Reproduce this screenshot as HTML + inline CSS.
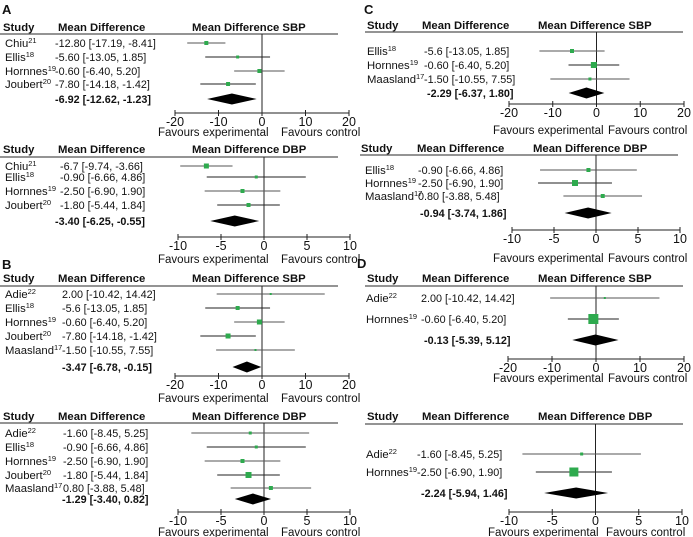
<!DOCTYPE html>
<html><head><meta charset="utf-8"><style>
html,body{margin:0;padding:0;background:#fff}
svg{display:block;font-family:"Liberation Sans",sans-serif}
</style></head><body>
<svg id="c" width="693" height="537" viewBox="0 0 693 537"></svg>
<script>
// ---- data ----
const aStudies=["Chiu","Ellis","Hornnes","Joubert"];
const aRefs=["21","18","19","20"];
const aSbpMean=[-12.80,-5.60,-0.60,-7.80];
const aSbpLow=[-17.19,-13.05,-6.40,-14.18];
const aSbpHigh=[-8.41,1.85,5.20,-1.42];
const aSbpW=[4,3,4,4];
const aSbpSum=[-6.92,-12.62,-1.23];
const aSbpText=["-12.80 [-17.19, -8.41]","-5.60 [-13.05, 1.85]","-0.60 [-6.40, 5.20]","-7.80 [-14.18, -1.42]"];
const aDbpMean=[-6.7,-0.90,-2.50,-1.80];
const aDbpLow=[-9.74,-6.66,-6.90,-5.44];
const aDbpHigh=[-3.66,4.86,1.90,1.84];
const aDbpW=[5,3,4,4];
const aDbpSum=[-3.40,-6.25,-0.55];
const aDbpText=["-6.7 [-9.74, -3.66]","-0.90 [-6.66, 4.86]","-2.50 [-6.90, 1.90]","-1.80 [-5.44, 1.84]"];

const bStudies=["Adie","Ellis","Hornnes","Joubert","Maasland"];
const bRefs=["22","18","19","20","17"];
const bSbpMean=[2.00,-5.6,-0.60,-7.80,-1.50];
const bSbpLow=[-10.42,-13.05,-6.40,-14.18,-10.55];
const bSbpHigh=[14.42,1.85,5.20,-1.42,7.55];
const bSbpW=[2,4,5,5,2];
const bSbpSum=[-3.47,-6.78,-0.15];
const bSbpText=["2.00 [-10.42, 14.42]","-5.6 [-13.05, 1.85]","-0.60 [-6.40, 5.20]","-7.80 [-14.18, -1.42]","-1.50 [-10.55, 7.55]"];
const bDbpMean=[-1.60,-0.90,-2.50,-1.80,0.80];
const bDbpLow=[-8.45,-6.66,-6.90,-5.44,-3.88];
const bDbpHigh=[5.25,4.86,1.90,1.84,5.48];
const bDbpW=[3,3,4,6,4];
const bDbpSum=[-1.29,-3.40,0.82];
const bDbpText=["-1.60 [-8.45, 5.25]","-0.90 [-6.66, 4.86]","-2.50 [-6.90, 1.90]","-1.80 [-5.44, 1.84]","0.80 [-3.88, 5.48]"];

const cStudies=["Ellis","Hornnes","Maasland"];
const cRefs=["18","19","17"];
const cSbpMean=[-5.6,-0.60,-1.50];
const cSbpLow=[-13.05,-6.40,-10.55];
const cSbpHigh=[1.85,5.20,7.55];
const cSbpW=[4,6,3];
const cSbpSum=[-2.29,-6.37,1.80];
const cSbpText=["-5.6 [-13.05, 1.85]","-0.60 [-6.40, 5.20]","-1.50 [-10.55, 7.55]"];
const cDbpMean=[-0.90,-2.50,0.80];
const cDbpLow=[-6.66,-6.90,-3.88];
const cDbpHigh=[4.86,1.90,5.48];
const cDbpW=[4,6,4];
const cDbpSum=[-0.94,-3.74,1.86];
const cDbpText=["-0.90 [-6.66, 4.86]","-2.50 [-6.90, 1.90]","0.80 [-3.88, 5.48]"];

const dStudies=["Adie","Hornnes"];
const dRefs=["22","19"];
const dSbpMean=[2.00,-0.60];
const dSbpLow=[-10.42,-6.40];
const dSbpHigh=[14.42,5.20];
const dSbpW=[2,10];
const dSbpSum=[-0.13,-5.39,5.12];
const dSbpText=["2.00 [-10.42, 14.42]","-0.60 [-6.40, 5.20]"];
const dDbpMean=[-1.60,-2.50];
const dDbpLow=[-8.45,-6.90];
const dDbpHigh=[5.25,1.90];
const dDbpW=[3,9];
const dDbpSum=[-2.24,-5.94,1.46];
const dDbpText=["-1.60 [-8.45, 5.25]","-2.50 [-6.90, 1.90]"];

const sbpTicks=[-20,-10,0,10,20];
const dbpTicks=[-10,-5,0,5,10];

// ---- drawing ----
const NS="http://www.w3.org/2000/svg";
const svg=document.getElementById('c');
function mk(tag,attrs,parent){const e=document.createElementNS(NS,tag);for(const k in attrs)e.setAttribute(k,attrs[k]);(parent||svg).appendChild(e);return e;}
function txt(x,y,s,opt,parent){const t=mk('text',Object.assign({x:x,y:y,'font-size':10.5,fill:'#111'},opt||{}),parent);t.textContent=s;return t;}

function panel(p){
  const g=mk('g',{});
  
  
  const xs=v=>p.x0+(v)*(p.x1-p.x0)/(p.max*2);
  let t=txt(p.hx[0],p.hy,'Study',{'font-weight':'bold','font-size':11.3},g);
  
  t=txt(p.hx[1],p.hy,'Mean Difference',{'font-weight':'bold','font-size':11.3},g);
  
  t=txt(p.hx[2],p.hy,'Mean Difference '+p.title,{'font-weight':'bold','font-size':11.3},g);
  
  const hl=mk('line',{x1:p.lx[0],x2:p.lx[1],y1:p.ly,y2:p.ly,stroke:'#555','stroke-width':1.2},g);
  
  const cx=p.x0+(p.x1-p.x0)/2;
  const zl=mk('line',{x1:cx,x2:cx,y1:p.ly,y2:p.ay,stroke:'#222','stroke-width':1},g);
  
  p.studies.forEach((s,i)=>{
    const y=p.rows[i];
    const st=txt(p.sx,y+4,s,{'font-size':11.3},g);
    
    const sup=mk('tspan',{'font-size':7.5,dy:-4},st);sup.textContent=p.refs[i];
    const vt=txt(p.vx,y+4,p.text[i],{'font-size':10.8},g);
    
    const m=p.mean[i]-0, lo=p.low[i], hi=p.high[i];
    const ci=mk('line',{x1:xs(lo+p.max),x2:xs(hi+p.max),y1:y,y2:y,stroke:i%2?'#222':'#555','stroke-width':1},g);
    
    const w=p.w[i];
    const sq=mk('rect',{x:xs(m+p.max)-w/2,y:y-w/2,width:w,height:w,fill:'#2eaa4e'},g);
    
  });
  const [sm,sl,sh]=p.sum;
  const stt=txt(p.smx,p.sy+4,sm.toFixed(2)+' ['+sl.toFixed(2)+', '+sh.toFixed(2)+']',{'font-weight':'bold','font-size':10.8},g);
  
  const dm=mk('polygon',{points:`${xs(sl+p.max)},${p.sy} ${xs(sm+p.max)},${p.sy-5.5} ${xs(sh+p.max)},${p.sy} ${xs(sm+p.max)},${p.sy+5.5}`,fill:'#000'},g);
  
  const ax=mk('line',{x1:p.x0,x2:p.x1,y1:p.ay,y2:p.ay,stroke:'#222','stroke-width':1},g);
  
  p.ticks.forEach(v=>{
    const x=xs(v+p.max);
    const tk=mk('line',{x1:x,x2:x,y1:p.ay-3,y2:p.ay+3,stroke:'#222','stroke-width':1},g);
    
    const tl=txt(x,p.ay+13,String(v),{'text-anchor':'middle','font-size':12.5},g);
    
  });
  const fe=txt(p.fx[0],p.fy,'Favours experimental',{'font-size':11.5},g);
  
  const fc=txt(p.fx[1],p.fy,'Favours control',{'font-size':11.5},g);
  
}

[['A',2,14],['B',2,269],['C',364,14],['D',357,268]].forEach(([l,x,y])=>{
  const t=txt(x,y,l,{'font-weight':'bold','font-size':13});
  
  
});

panel({name:'panel-a-sbp',title:'SBP',hx:[3,58,192],hy:31,lx:[0,338],ly:34,x0:175,x1:349,max:20,ay:113,
  studies:aStudies,refs:aRefs,mean:aSbpMean,low:aSbpLow,high:aSbpHigh,w:aSbpW,text:aSbpText,sum:aSbpSum,
  rows:[43,57,71,84],sy:99,sx:5,vx:55,smx:55,ticks:sbpTicks,fx:[158,281],fy:136});
panel({name:'panel-a-dbp',title:'DBP',hx:[3,58,192],hy:153,lx:[0,338],ly:157,x0:178,x1:350,max:10,ay:237,
  studies:aStudies,refs:aRefs,mean:aDbpMean,low:aDbpLow,high:aDbpHigh,w:aDbpW,text:aDbpText,sum:aDbpSum,
  rows:[166,177,191,205],sy:221,sx:5,vx:60,smx:55,ticks:dbpTicks,fx:[158,281],fy:263});
panel({name:'panel-b-sbp',title:'SBP',hx:[3,58,192],hy:282,lx:[0,338],ly:286,x0:175,x1:349,max:20,ay:376,
  studies:bStudies,refs:bRefs,mean:bSbpMean,low:bSbpLow,high:bSbpHigh,w:bSbpW,text:bSbpText,sum:bSbpSum,
  rows:[294,308,322,336,350],sy:367,sx:5,vx:62,smx:62,ticks:sbpTicks,fx:[158,281],fy:402});
panel({name:'panel-b-dbp',title:'DBP',hx:[3,58,192],hy:420,lx:[0,338],ly:423,x0:178,x1:350,max:10,ay:512,
  studies:bStudies,refs:bRefs,mean:bDbpMean,low:bDbpLow,high:bDbpHigh,w:bDbpW,text:bDbpText,sum:bDbpSum,
  rows:[433,447,461,475,488],sy:499,sx:5,vx:63,smx:62,ticks:dbpTicks,fx:[158,281],fy:536});
panel({name:'panel-c-sbp',title:'SBP',hx:[367,422,538],hy:29,lx:[365,683],ly:32,x0:509,x1:684,max:20,ay:104,
  studies:cStudies,refs:cRefs,mean:cSbpMean,low:cSbpLow,high:cSbpHigh,w:cSbpW,text:cSbpText,sum:cSbpSum,
  rows:[51,65,79],sy:93,sx:367,vx:424,smx:427,ticks:sbpTicks,fx:[493,608],fy:134});
panel({name:'panel-c-dbp',title:'DBP',hx:[361,417,533],hy:152,lx:[360,678],ly:155,x0:512,x1:680,max:10,ay:230,
  studies:cStudies,refs:cRefs,mean:cDbpMean,low:cDbpLow,high:cDbpHigh,w:cDbpW,text:cDbpText,sum:cDbpSum,
  rows:[170,183,196],sy:213,sx:365,vx:418,smx:420,ticks:dbpTicks,fx:[493,608],fy:262});
panel({name:'panel-d-sbp',title:'SBP',hx:[367,422,538],hy:282,lx:[365,683],ly:286,x0:508,x1:684,max:20,ay:359,
  studies:dStudies,refs:dRefs,mean:dSbpMean,low:dSbpLow,high:dSbpHigh,w:dSbpW,text:dSbpText,sum:dSbpSum,
  rows:[298,319],sy:340,sx:366,vx:421,smx:424,ticks:sbpTicks,fx:[493,608],fy:382});
panel({name:'panel-d-dbp',title:'DBP',hx:[367,422,538],hy:420,lx:[365,683],ly:424,x0:509,x1:682,max:10,ay:512,
  studies:dStudies,refs:dRefs,mean:dDbpMean,low:dDbpLow,high:dDbpHigh,w:dDbpW,text:dDbpText,sum:dDbpSum,
  rows:[454,472],sy:493,sx:366,vx:417,smx:421,ticks:dbpTicks,fx:[488,606],fy:536});
</script>
</body></html>
